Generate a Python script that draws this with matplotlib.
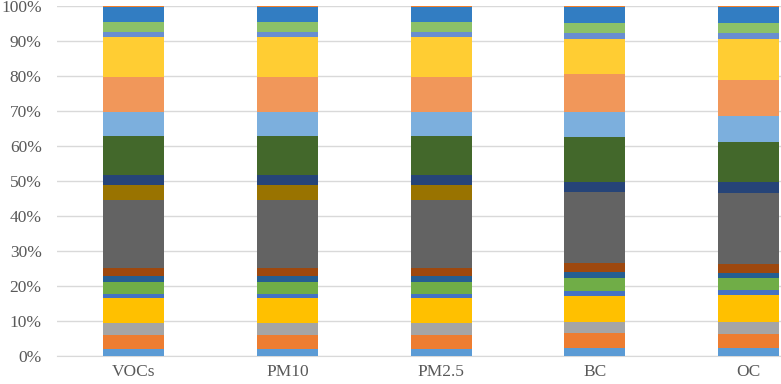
import numpy as np
import matplotlib
matplotlib.use('Agg')
import matplotlib.pyplot as plt

# カテゴリ
categories = ['VOCs', 'PM10', 'PM2.5', 'BC', 'OC']

# 各カテゴリの構成比 (%)  下から上へ
vocs = [1.9, 4.0, 3.5, 7.0, 1.2, 3.5, 1.7, 2.2, 19.5, 4.3, 2.8, 11.2, 6.9, 10.0, 11.3, 1.6, 2.8, 4.3, 0.3]
pm10 = [1.9, 4.0, 3.5, 7.0, 1.2, 3.5, 1.7, 2.2, 19.5, 4.3, 2.8, 11.2, 6.9, 10.0, 11.3, 1.6, 2.8, 4.3, 0.3]
pm25 = [1.9, 4.0, 3.5, 7.0, 1.2, 3.5, 1.7, 2.2, 19.5, 4.3, 2.8, 11.2, 6.9, 10.0, 11.3, 1.6, 2.8, 4.3, 0.3]
bc = [2.1, 4.3, 3.3, 7.4, 1.4, 3.8, 1.7, 2.4, 20.5, 0.0, 2.7, 13.0, 7.1, 10.8, 9.9, 1.9, 2.8, 4.6, 0.3]
oc = [2.1, 4.1, 3.5, 7.6, 1.5, 3.3, 1.6, 2.5, 20.4, 0.0, 3.1, 11.4, 7.4, 10.3, 11.6, 1.9, 2.8, 4.6, 0.3]

colors = ['#5B9BD5', '#ED7D31', '#A5A5A5', '#FFC000', '#4472C4', '#70AD47',
          '#255E91', '#9E480E', '#636363', '#997300', '#264478', '#43682B',
          '#7CAFDD', '#F1975A', '#FFCD33', '#698ED0', '#8CC168', '#327DC2',
          '#F07F2C']

data = np.array([vocs, pm10, pm25, bc, oc])
data = data / data.sum(axis=1, keepdims=True)

plt.rcParams['font.family'] = ['Liberation Serif', 'DejaVu Serif']

fig = plt.figure(figsize=(7.81, 3.84), dpi=100)
ax = fig.add_axes([0.073, 0.0737, 0.927, 0.9115])

x = np.arange(len(categories))
bottom = np.zeros(len(categories))
for j in range(data.shape[1]):
    ax.bar(x, data[:, j], bottom=bottom, width=0.397, color=colors[j], zorder=3)
    bottom += data[:, j]

ax.set_ylim(0, 1)
ax.set_xlim(-0.5, 4.212)
ax.set_yticks(np.arange(0, 1.01, 0.1))
ax.set_yticklabels([f'{int(round(v * 100))}%' for v in np.arange(0, 1.01, 0.1)])
ax.set_xticks(x)
ax.set_xticklabels(categories)
ax.tick_params(axis='both', length=0, labelsize=12.5, colors='#595959')
ax.tick_params(axis='y', pad=11)
ax.tick_params(axis='x', pad=6)
ax.grid(axis='y', color='#D9D9D9', linewidth=1, zorder=0)
for s in ['top', 'right', 'left']:
    ax.spines[s].set_visible(False)
ax.spines['bottom'].set_color('#D9D9D9')

fig.savefig('out.png', dpi=100)
